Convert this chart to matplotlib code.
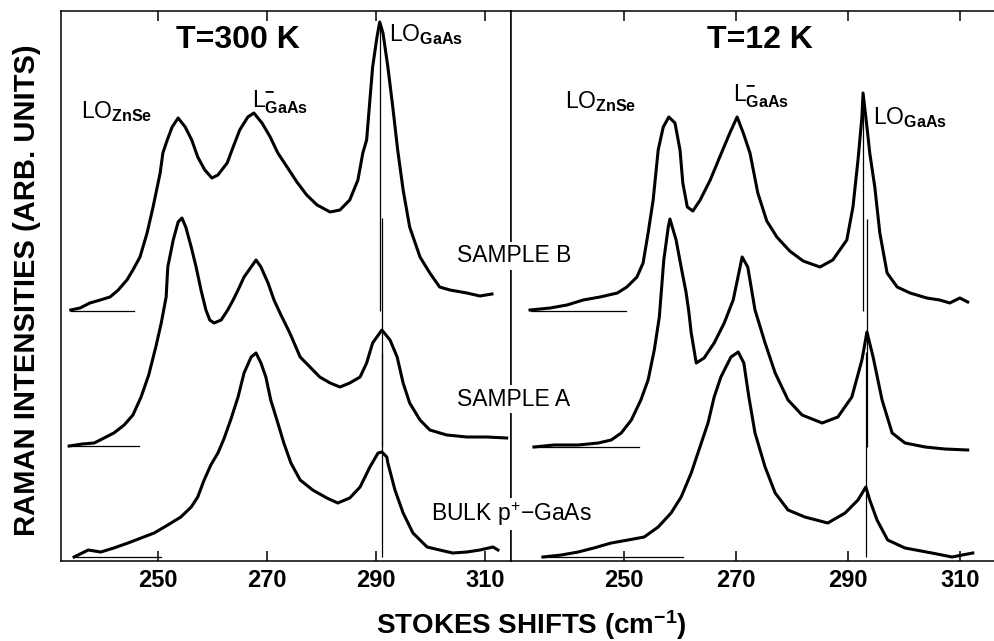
import matplotlib
matplotlib.use("Agg")
import matplotlib.pyplot as plt

plt.rcParams['font.family'] = ['Liberation Sans', 'DejaVu Sans']
plt.rcParams['mathtext.fontset'] = 'custom'
plt.rcParams['mathtext.rm'] = 'Liberation Sans'
plt.rcParams['mathtext.it'] = 'Liberation Sans'
plt.rcParams['mathtext.bf'] = 'Liberation Sans:bold'

# ---- T = 300 K spectra (shift in cm^-1, intensity in arb. units) ----
x300_b = [234.0, 235.7, 237.5, 239.4, 241.2, 242.7, 244.3, 245.4, 246.7, 248.0, 249.1, 250.4,
          250.9, 251.7, 252.6, 253.7, 255.0, 256.2, 257.3, 258.6, 259.9, 261.0, 262.7, 263.8,
          265.0, 266.5, 267.6, 269.1, 270.6, 272.0, 273.7, 275.5, 277.3, 279.2, 281.6, 283.4,
          285.2, 286.7, 287.6, 288.3, 288.9, 289.4, 290.2, 290.7, 291.3, 292.2, 293.1, 294.0,
          295.0, 296.2, 298.1, 299.9, 301.7, 303.6, 306.7, 309.1, 311.3]
y300_b = [251, 253, 258, 261, 264, 271, 281, 291, 304, 328, 354, 388,
          408, 421, 434, 443, 434, 421, 404, 391, 383, 386, 398, 414,
          431, 444, 448, 438, 424, 408, 394, 379, 366, 356, 349, 351,
          361, 381, 408, 421, 461, 494, 524, 539, 528, 494, 454, 411,
          371, 334, 304, 288, 274, 271, 268, 265, 267]

x300_a = [233.7, 236.1, 238.3, 240.1, 241.9, 243.8, 245.4, 246.9, 248.3, 249.6, 250.6, 251.5,
          251.8, 252.8, 253.7, 254.4, 255.1, 256.1, 257.0, 257.9, 258.8, 259.5, 260.3, 261.6,
          262.8, 263.8, 264.7, 265.8, 267.1, 268.0, 268.9, 270.2, 271.3, 272.4, 274.2, 276.1,
          277.9, 279.7, 281.6, 283.4, 285.2, 287.1, 288.3, 289.4, 291.1, 292.6, 293.9, 295.0,
          296.2, 298.1, 299.9, 303.0, 306.7, 310.4, 314.0]
y300_a = [115, 117, 118, 123, 128, 136, 146, 164, 186, 214, 238, 264,
          294, 321, 339, 343, 334, 314, 294, 271, 251, 241, 238, 241,
          251, 261, 271, 284, 294, 301, 294, 278, 261, 248, 228, 204,
          194, 184, 178, 174, 178, 184, 198, 218, 231, 221, 204, 178,
          158, 141, 131, 126, 124, 124, 123]

x300_bulk = [234.6, 237.2, 239.5, 241.9, 244.5, 246.9, 249.3, 251.8, 254.2, 256.1, 257.3, 258.4,
             259.7, 261.0, 262.1, 263.4, 264.7, 265.8, 267.1, 268.0, 268.9, 269.8, 270.7, 272.0,
             273.1, 274.4, 276.1, 278.4, 281.0, 283.0, 285.2, 287.1, 288.9, 290.4, 291.1, 292.0,
             292.2, 293.5, 295.0, 296.8, 299.4, 301.7, 304.1, 306.7, 309.1, 311.5, 312.4]
y300_bulk = [4, 11, 9, 13, 18, 23, 28, 36, 44, 54, 64, 80,
             96, 108, 122, 142, 164, 188, 204, 208, 198, 184, 161, 138,
             118, 98, 81, 71, 63, 58, 63, 74, 94, 108, 109, 104,
             98, 71, 48, 28, 14, 11, 8, 9, 11, 14, 11]

# ---- T = 12 K spectra ----
x12_b = [233.2, 236.8, 239.8, 242.7, 245.7, 248.8, 250.5, 252.3, 253.4, 254.3, 255.2, 256.1,
         257.0, 258.0, 259.1, 260.0, 260.5, 261.3, 262.3, 263.6, 265.4, 267.1, 268.9, 270.2,
         271.3, 272.5, 273.9, 275.5, 277.3, 279.6, 282.0, 285.0, 287.3, 289.8, 290.9, 291.8,
         292.5, 292.7, 293.4, 293.9, 294.8, 295.7, 297.0, 298.8, 301.1, 304.1, 306.4, 308.2,
         310.0, 311.4]
y12_b = [251, 253, 256, 261, 264, 268, 274, 284, 298, 328, 361, 411,
         434, 444, 438, 411, 378, 354, 350, 361, 381, 404, 428, 444,
         428, 408, 368, 340, 324, 310, 300, 294, 301, 321, 354, 401,
         444, 468, 434, 408, 374, 328, 288, 274, 268, 263, 261, 258,
         263, 259]

x12_a = [233.9, 237.5, 241.8, 245.4, 247.7, 249.5, 251.3, 253.0, 254.3, 255.4, 256.3, 257.1,
         257.9, 258.2, 259.3, 260.2, 261.1, 261.6, 262.0, 262.9, 264.3, 266.1, 267.9, 269.5,
         271.1, 272.1, 273.4, 275.2, 277.0, 279.3, 281.8, 285.4, 288.2, 290.7, 292.5, 293.4,
         294.5, 296.1, 297.9, 300.2, 303.8, 307.3, 311.4]
y12_a = [114, 116, 116, 118, 121, 128, 141, 161, 181, 211, 244, 301,
         334, 342, 321, 294, 268, 248, 228, 198, 203, 218, 238, 261,
         304, 294, 251, 218, 188, 161, 146, 138, 144, 164, 201, 229,
         204, 161, 128, 118, 114, 112, 111]

x12_bulk = [235.5, 238.8, 241.8, 244.6, 247.7, 250.7, 253.6, 256.1, 258.4, 260.2, 262.0, 263.8,
            265.0, 266.1, 267.3, 269.1, 270.4, 271.4, 272.3, 273.4, 275.2, 277.0, 279.3, 282.3,
            286.4, 289.5, 291.8, 293.2, 293.9, 295.2, 297.1, 300.2, 305.0, 308.6, 312.3]
y12_bulk = [4, 6, 9, 13, 18, 21, 24, 34, 48, 64, 88, 118,
            138, 164, 184, 204, 209, 198, 164, 128, 94, 68, 51, 44,
            38, 48, 61, 74, 61, 41, 21, 13, 8, 4, 8]

# baselines (level, start, end) and LO(GaAs) marker positions
base300 = [250, 115, 4]
base300_x = [(234.0, 245.6), (233.5, 246.5), (234.8, 250.5)]
lo300 = [290.8, 291.1, 291.1]
base12 = [250, 114, 4]
base12_x = [(233.4, 250.4), (233.9, 252.7), (235.5, 260.5)]
lo12 = [292.7, 293.4, 293.2]

ticks = [250, 270, 290, 310]

fig = plt.figure(figsize=(9.94, 6.41), dpi=100)
W, H = 994.0, 641.0
ax1 = fig.add_axes([61 / W, 80 / H, 450 / W, 550 / H])
ax2 = fig.add_axes([511 / W, 80 / H, 483 / W, 550 / H])

panels = [
    (ax1, [(x300_b, y300_b), (x300_a, y300_a), (x300_bulk, y300_bulk)], base300, base300_x, lo300, (232.2, 314.8)),
    (ax2, [(x12_b, y12_b), (x12_a, y12_a), (x12_bulk, y12_bulk)], base12, base12_x, lo12, (229.8, 316.1)),
]

for ax, spectra, bases, bx, lo, xl in panels:
    for (xs, ys), b, (b0, b1), xlo in zip(spectra, bases, bx, lo):
        ax.plot(xs, ys, color='black', lw=2.2, solid_joinstyle='round')
        ax.plot([b0, b1], [b, b], color='black', lw=0.9)
        ax.vlines(xlo, b, max(ys), color='black', lw=0.9)
    ax.set_xlim(*xl)
    ax.set_ylim(0, 550)
    ax.set_yticks([])
    ax.set_xticks(ticks)
    ax.tick_params(axis='x', direction='in', length=7, width=1.1, top=True,
                   labelsize=17, pad=6)
    for lab in ax.get_xticklabels():
        lab.set_fontweight('bold')
    for s in ax.spines.values():
        s.set_linewidth(1.1)

ax2.spines['right'].set_visible(False)

# panel titles and peak labels
ax1.text(264.7, 521, 'T=300 K', fontsize=23, fontweight='bold', ha='center', va='center')
ax2.text(274.3, 521, 'T=12 K', fontsize=23, fontweight='bold', ha='center', va='center')

lab_kw = dict(fontsize=16.5, ha='left', va='baseline')
ax1.text(235.9, 443, r'LO$_{\mathbf{ZnSe}}$', **lab_kw)
ax1.text(267.2, 454, r'L$^{\mathbf{-}}_{\mathbf{GaAs}}$', **lab_kw)
ax1.text(292.4, 520, r'LO$_{\mathbf{GaAs}}$', **lab_kw)
ax2.text(239.5, 453, r'LO$_{\mathbf{ZnSe}}$', **lab_kw)
ax2.text(269.5, 459, r'L$^{\mathbf{-}}_{\mathbf{GaAs}}$', **lab_kw)
ax2.text(294.5, 437, r'LO$_{\mathbf{GaAs}}$', **lab_kw)

# sample names straddle the panel divider
box = dict(facecolor='white', edgecolor='none', pad=1.5)
fig.text(514 / W, 1 - 256 / H, 'SAMPLE B', fontsize=16.5, ha='center', va='center', bbox=box)
fig.text(514 / W, 1 - 399 / H, 'SAMPLE A', fontsize=16.5, ha='center', va='center', bbox=box)
fig.text(511 / W, 1 - 514 / H, r'BULK p$^{+}$$-$GaAs', fontsize=16.5, ha='center', va='center', bbox=box)

fig.text(27 / W, 1 - 290 / H, 'RAMAN INTENSITIES (ARB. UNITS)', fontsize=21, fontweight='bold',
         rotation=90, ha='center', va='center')
fig.text(531 / W, 1 - 625 / H, r'STOKES SHIFTS (cm$^{\mathbf{-1}}$)', fontsize=20, fontweight='bold',
         ha='center', va='center')

fig.savefig('out.png', dpi=100)
